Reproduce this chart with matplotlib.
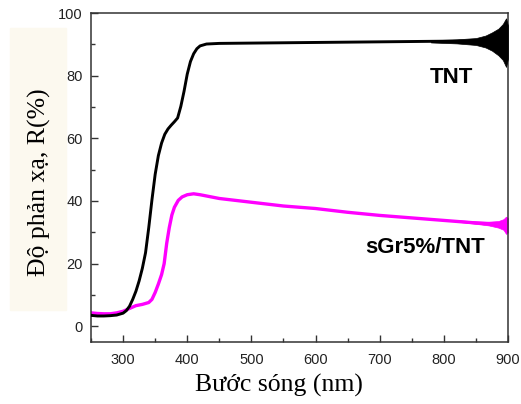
import matplotlib
matplotlib.use("Agg")
import matplotlib.pyplot as plt
from matplotlib.ticker import MultipleLocator

# Phổ phản xạ TNT (đường đen)
tnt_wl = [250, 260, 270, 280, 290, 300, 305, 310, 315, 320, 325, 330, 335, 340,
          345, 350, 355, 360, 365, 370, 375, 380, 385, 390, 395, 400, 405, 410,
          415, 420, 430, 450, 500, 550, 600, 650, 700, 750, 800, 850, 900]
tnt_r = [3.5, 3.3, 3.3, 3.4, 3.6, 4.2, 5.0, 6.4, 8.6, 11.2, 14.5, 18.5, 23.5, 31.5,
         40.4, 48.5, 54.5, 58.5, 61.3, 63.0, 64.2, 65.3, 66.5, 70.2, 75.0, 80.5, 84.5, 87.0,
         88.6, 89.5, 90.1, 90.3, 90.4, 90.5, 90.6, 90.7, 90.8, 90.9, 91.0, 91.0, 90.6]

# Phổ phản xạ sGr5%/TNT (đường hồng)
sgr_wl = [250, 260, 270, 280, 290, 300, 310, 320, 330, 340, 345, 350, 355, 360,
          364, 368, 372, 376, 380, 386, 392, 400, 410, 420, 450, 500, 550, 600,
          650, 700, 750, 800, 850, 900]
sgr_r = [4.3, 4.1, 4.0, 4.0, 4.3, 4.8, 5.7, 6.6, 7.0, 7.6, 8.6, 10.8, 13.5, 16.5,
         20.0, 26.5, 31.5, 35.5, 38.0, 40.2, 41.3, 42.0, 42.3, 42.0, 40.8, 39.6, 38.4, 37.6,
         36.4, 35.4, 34.6, 33.8, 33.0, 32.3]

# vùng nhiễu ở bước sóng dài
tnt_band_wl = [780, 820, 850, 865, 875, 885, 892, 897, 900]
tnt_band_lo = [90.6, 90.3, 89.8, 89.0, 88.0, 86.5, 85.0, 82.8, 85.5]
tnt_band_hi = [91.3, 91.6, 92.0, 92.8, 93.8, 95.0, 96.5, 98.3, 96.0]
sgr_band_wl = [820, 850, 870, 885, 893, 897, 900]
sgr_band_lo = [33.4, 32.7, 32.2, 31.5, 30.8, 29.5, 30.0]
sgr_band_hi = [33.9, 33.5, 33.4, 33.6, 34.2, 35.0, 34.5]

plt.rcParams["xtick.direction"] = "in"
plt.rcParams["ytick.direction"] = "in"

fig = plt.figure(figsize=(5.21, 4.04), dpi=100)
ax = fig.add_axes([0.1747, 0.1535, 0.8003, 0.8143])

ax.plot(tnt_wl, tnt_r, color="black", lw=2.1, zorder=3)
ax.fill_between(tnt_band_wl, tnt_band_lo, tnt_band_hi, color="black", lw=0.5, zorder=3)
ax.plot(sgr_wl, sgr_r, color="#ff00ff", lw=2.4, zorder=2)
ax.fill_between(sgr_band_wl, sgr_band_lo, sgr_band_hi, color="#ff00ff", lw=0.5, zorder=2)

ax.set_xlim(250, 900)
ax.set_ylim(-5, 100)
ax.xaxis.set_major_locator(MultipleLocator(100))
ax.xaxis.set_minor_locator(MultipleLocator(50))
ax.yaxis.set_major_locator(MultipleLocator(20))
ax.yaxis.set_minor_locator(MultipleLocator(10))
ax.tick_params(which="both", direction="in", color="#333333", width=1.0)
ax.tick_params(which="major", length=5, labelsize=10.5, labelcolor="#222222")
ax.tick_params(which="minor", length=3)
ax.tick_params(axis="x", pad=8)
ax.tick_params(axis="y", pad=6)
for lab in ax.get_xticklabels() + ax.get_yticklabels():
    lab.set_family("Liberation Sans")
for s in ax.spines.values():
    s.set_color("#333333")
    s.set_linewidth(1.1)

ax.text(812, 79.5, "TNT", fontsize=16, fontweight="bold", family="Liberation Sans",
        ha="center", va="center")
ax.text(771, 25.0, "sGr5%/TNT", fontsize=16, fontweight="bold", family="Liberation Sans",
        ha="center", va="center")

# nhãn trục
fig.patches.append(plt.Rectangle((10 / 521, 1 - 310 / 404), 56 / 521, 282 / 404,
                                 transform=fig.transFigure, color="#fcf9ef", zorder=0))
fig.text(39 / 521, 1 - 182 / 404, "Độ phản xạ, R(%)", rotation=90, fontsize=18.5,
         family="Liberation Serif", ha="center", va="center")
fig.text(279 / 521, 1 - 385 / 404, "Bước sóng (nm)", fontsize=18.5,
         family="Liberation Serif", ha="center", va="center")

fig.savefig("out.png", dpi=100)
